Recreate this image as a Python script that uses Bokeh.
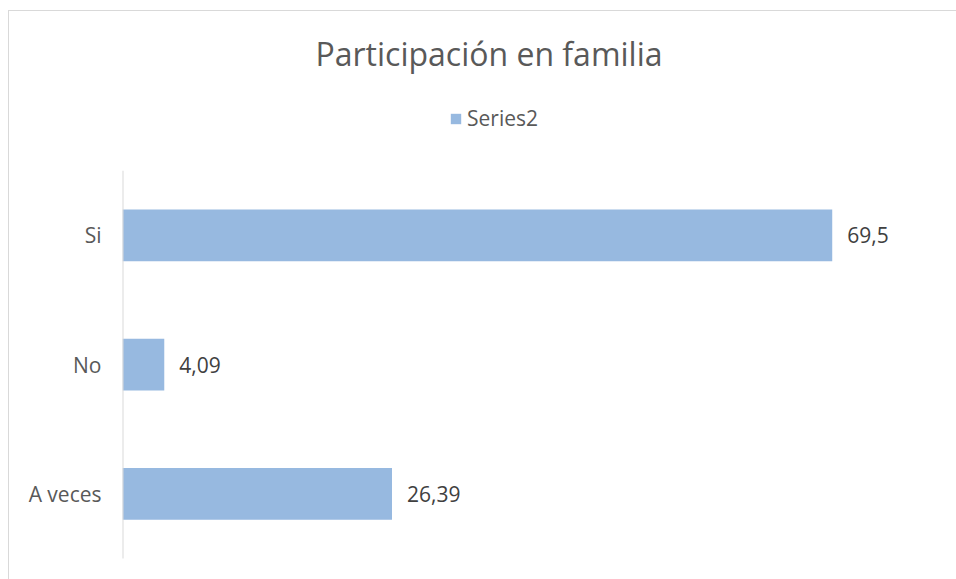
from bokeh.plotting import figure
from bokeh.models import Range1d, ColumnDataSource, LabelSet, Label, Legend, LegendItem, FixedTicker
from bokeh.embed import file_html
from bokeh.resources import INLINE
from bokeh.core.properties import value

categories = ["A veces", "No", "Si"]
values = [26.39, 4.09, 69.5]
value_labels = [f"{v:g}".replace(".", ",") for v in values]
series_name = "Series2"
title_text = "Participación en familia"

BAR = "#97B9E0"
FONT = "Open Sans"

# layout constants (pixels)
CANVAS_H = 568
BAND_PX = 129
TOP_GAP = 159      # canvas top -> top of first band
BOTTOM_GAP = 22    # last band -> canvas bottom
n = len(categories)
pos = [i + 0.5 for i in range(n)]

p = figure(width=948, height=569, output_backend="svg", toolbar_location=None,
           x_range=Range1d(0, 80.2),
           y_range=Range1d(-BOTTOM_GAP / BAND_PX, n + TOP_GAP / BAND_PX),
           min_border_left=113, min_border_right=16, min_border_top=0, min_border_bottom=0)
p.margin = (10, 0, 0, 8)
p.styles = {"border-left": "1px solid #d9d9d9", "border-top": "1px solid #d9d9d9",
            "box-sizing": "border-box"}
p.outline_line_color = None
p.xgrid.visible = False
p.ygrid.visible = False
p.xaxis.visible = False
p.background_fill_color = "white"
p.border_fill_color = "white"

src = ColumnDataSource(dict(y=pos, val=values, lab=value_labels))
r = p.hbar(y="y", right="val", left=0, height=0.4, source=src,
           fill_color=BAR, line_color=None)

# category axis line spans only the category bands
p.segment(x0=[0], y0=[0], x1=[0], y1=[n], line_color="#d9d9d9", line_width=2)

ax = p.yaxis[0]
ax.ticker = FixedTicker(ticks=pos)
ax.major_label_overrides = {pp: c for pp, c in zip(pos, categories)}
ax.axis_line_color = None
ax.major_tick_line_color = None
ax.minor_tick_line_color = None
ax.major_tick_out = 0
ax.major_tick_in = 0
ax.major_label_standoff = 21
ax.major_label_text_font = FONT
ax.major_label_text_font_size = "21px"
ax.major_label_text_color = "#595959"

labels = LabelSet(x="val", y="y", text="lab", source=src, x_offset=15,
                  text_baseline="middle", text_align="left",
                  text_font=value(FONT), text_font_size="21px", text_color="#404040")
p.add_layout(labels)

title = Label(x=366.5, y=CANVAS_H - 41, x_units="screen", y_units="screen", text=title_text,
              text_align="center", text_baseline="alphabetic",
              text_font=FONT, text_font_size="32px", text_color="#595959")
p.add_layout(title)

legend = Legend(items=[LegendItem(label=series_name, renderers=[r])],
                location=(327, CANVAS_H - 120), orientation="horizontal",
                label_text_font=FONT, label_text_font_size="21px", label_text_color="#595959",
                glyph_width=13, glyph_height=13, label_height=13, label_standoff=5,
                padding=0, margin=0, border_line_color=None, background_fill_alpha=0)
p.add_layout(legend, "center")

open("out.html", "w").write(file_html(p, INLINE))
